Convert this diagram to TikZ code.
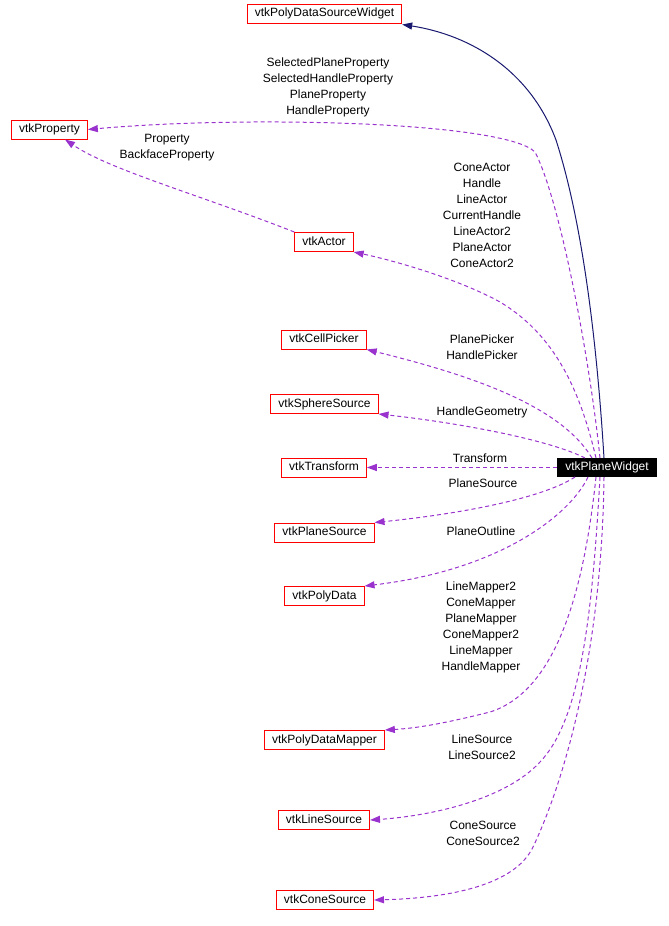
\documentclass[tikz,border=0pt]{standalone}
\usepackage{fontspec}
\setmainfont{Liberation Sans}
\usetikzlibrary{arrows.meta}
\definecolor{edgepurple}{HTML}{9A32CD}
\definecolor{midblue}{HTML}{191970}
\begin{document}
\begin{tikzpicture}[x=1pt,y=-1pt,
  cls/.style={draw=red, line width=1pt, fill=white, font=\fontsize{12}{14}\selectfont,
    inner xsep=7.5pt, inner ysep=0pt, minimum height=19pt, text height=9pt, text depth=2.5pt},
  focus/.style={draw=black, fill=black, text=white, line width=1pt, font=\fontsize{12}{14}\selectfont,
    inner xsep=8pt, inner ysep=0pt, minimum height=18pt, text height=9pt, text depth=2.5pt},
  lbl/.style={align=center, font=\fontsize{12}{16}\selectfont, inner sep=0pt},
  usage/.style={draw=edgepurple, line width=1pt, dash pattern=on 4pt off 3pt,
    -{Triangle[length=10pt,width=7pt,fill=edgepurple]}},
  inherit/.style={draw=midblue, line width=1pt,
    -{Triangle[length=10pt,width=7pt,fill=midblue]}}
]
\useasboundingbox (0,0) rectangle (669,926);

% class nodes
\node[cls] (psw) at (324.5,13.5) {vtkPolyDataSourceWidget};
\node[cls] (prop) at (49.5,129.5) {vtkProperty};
\node[cls] (actor) at (324,242) {vtkActor};
\node[cls] (cp) at (324,339.5) {vtkCellPicker};
\node[cls] (ss) at (324.5,404) {vtkSphereSource};
\node[cls] (tr) at (324,467.5) {vtkTransform};
\node[focus] (pw) at (607,467.5) {vtkPlaneWidget};
\node[cls] (ps) at (324.5,532.5) {vtkPlaneSource};
\node[cls] (pd) at (324.5,596) {vtkPolyData};
\node[cls] (pdm) at (324.5,740) {vtkPolyDataMapper};
\node[cls] (ls) at (324,820) {vtkLineSource};
\node[cls] (cs) at (325,900) {vtkConeSource};

% edges
\draw[inherit] ([xshift=-3pt]pw.north) .. controls (598,360) and (585,230) .. (556,140)
   .. controls (530,70) and (470,35) .. ([yshift=-1pt]psw.south east);
\draw[usage] ([xshift=-7pt]pw.north) .. controls (590,360) and (560,200) .. (535,152)
   .. controls (505,122) and (250,115) .. (prop.east);
\draw[usage] ([xshift=-11pt]pw.north) .. controls (580,390) and (555,335) .. (500,302)
   .. controls (460,280) and (400,262) .. (actor.south east);
\draw[usage] (actor.north west) .. controls (200,195) and (110,170) .. ([xshift=15.5pt]prop.south);
\draw[usage] ([xshift=-15pt]pw.north) .. controls (560,405) and (470,375) .. (cp.south east);
\draw[usage] ([xshift=-22pt]pw.north) .. controls (550,440) and (460,423) .. (ss.south east);
\draw[usage] (pw.west) -- (tr.east);
\draw[usage] ([xshift=-32pt]pw.south) .. controls (540,500) and (450,515) .. (ps.north east);
\draw[usage] ([xshift=-19pt]pw.south) .. controls (570,515) and (500,570) .. (pd.north east);
\draw[usage] ([xshift=-11pt]pw.south) .. controls (585,580) and (560,690) .. (490,712)
   .. controls (450,722) and (420,728) .. (pdm.north east);
\draw[usage] ([xshift=-7pt]pw.south) .. controls (592,620) and (580,720) .. (540,762)
   .. controls (505,800) and (430,816) .. (ls.east);
\draw[usage] ([xshift=-3pt]pw.south) .. controls (602,650) and (565,780) .. (533,847)
   .. controls (515,885) and (450,898) .. (cs.east);

% labels
\node[lbl] (l1) at (328,87) {SelectedPlaneProperty\\SelectedHandleProperty\\PlaneProperty\\HandleProperty};
\node[lbl] (l2) at (167,148) {Property\\BackfaceProperty};
\node[lbl] (l3) at (482,215) {ConeActor\\Handle\\LineActor\\CurrentHandle\\LineActor2\\PlaneActor\\ConeActor2};
\node[lbl] (l4) at (482,347) {PlanePicker\\HandlePicker};
\node[lbl] (l5) at (482,412) {HandleGeometry};
\node[lbl] (l6) at (480,458) {Transform};
\node[lbl] (l7) at (483,483) {PlaneSource};
\node[lbl] (l8) at (481,531) {PlaneOutline};
\node[lbl] (l9) at (481,627) {LineMapper2\\ConeMapper\\PlaneMapper\\ConeMapper2\\LineMapper\\HandleMapper};
\node[lbl] (l10) at (482,747) {LineSource\\LineSource2};
\node[lbl] (l11) at (483,833) {ConeSource\\ConeSource2};
\end{tikzpicture}
\end{document}
